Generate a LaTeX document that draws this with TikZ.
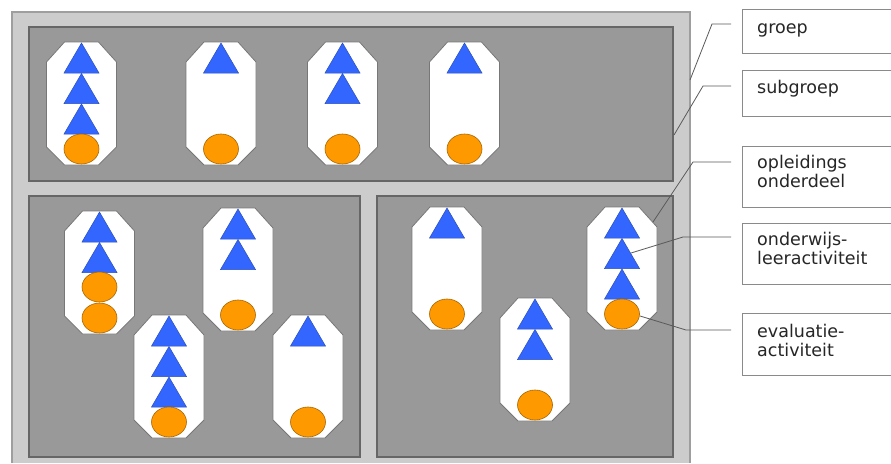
\documentclass[tikz,border=0pt]{standalone}
\usepackage{fontspec}
\newfontfamily\labfont{DejaVu Sans}
\usetikzlibrary{calc}
\definecolor{outerfill}{HTML}{CCCCCC}
\definecolor{outerline}{HTML}{9E9E9E}
\definecolor{panelfill}{HTML}{999999}
\definecolor{panelline}{HTML}{666666}
\definecolor{octline}{HTML}{777777}
\definecolor{trifill}{HTML}{3366FF}
\definecolor{triline}{HTML}{2B4FB8}
\definecolor{circfill}{HTML}{FF9900}
\definecolor{circline}{HTML}{A86500}
\definecolor{conline}{HTML}{5A5A5A}
\definecolor{boxline}{HTML}{8A8A8A}
\definecolor{labtext}{HTML}{262626}
\newcommand\oounit[5]{% #1 name, #2 cx, #3 top, #4 triangles, #5 circles
  \begin{scope}[shift={(#2,#3)}]
    \coordinate (#1) at (0,0);
    \draw[octa] (-17,0) -- (17,0) -- (35,20) -- (35,105) -- (17,123) -- (-17,123) -- (-35,105) -- (-35,20) -- cycle;
    \foreach \k in {1,...,#4}{
      \draw[tri] (0,{1+30.5*(\k-1)}) -- (17.5,{31+30.5*(\k-1)}) -- (-17.5,{31+30.5*(\k-1)}) -- cycle;
    }
    \ifnum#5>1 \draw[circ] (0,76) ellipse [x radius=17.5pt, y radius=15pt];\fi
    \draw[circ] (0,107) ellipse [x radius=17.5pt, y radius=15pt];
  \end{scope}}
\begin{document}
\begin{tikzpicture}[x=1pt,y=-1pt,
  panel/.style={fill=panelfill, draw=panelline, line width=1.5pt},
  octa/.style={fill=white, draw=octline, line width=0.8pt},
  tri/.style={fill=trifill, draw=triline, line width=0.5pt},
  circ/.style={fill=circfill, draw=circline, line width=0.6pt},
  con/.style={draw=conline, line width=0.8pt},
  lbox/.style={draw=none, inner sep=0pt, anchor=north west, minimum width=149pt},
  boxl/.style={draw=boxline, line width=1pt},
  ltext/.style={font=\labfont\fontsize{17.5}{19}\selectfont, text=labtext, inner sep=0pt, anchor=base west, align=left, text width=132pt}]
\useasboundingbox (0,0) rectangle (891,463);
\fill[white] (0,0) rectangle (891,463);
% outer frame (group)
\fill[outerfill] (12,12) rectangle (690,463);
\draw[outerline, line width=1.5pt] (12,463) -- (12,12) -- (690,12) -- (690,463);
% subgroup panels
\draw[panel] (29,27) rectangle (673,181);
\draw[panel] (29,196) rectangle (360,457);
\draw[panel] (377,196) rectangle (673,457);
% units: name, cx, top, triangles, circles
\oounit{o1}{81.5}{42}{3}{1}
\oounit{o2}{221}{42}{1}{1}
\oounit{o3}{342.5}{42}{2}{1}
\oounit{o4}{464.5}{42}{1}{1}
\oounit{o5}{99.5}{211}{2}{2}
\oounit{o6}{238}{208}{2}{1}
\oounit{o7}{169}{315}{3}{1}
\oounit{o8}{308}{315}{1}{1}
\oounit{o9}{447}{207}{1}{1}
\oounit{o10}{535}{298}{2}{1}
\oounit{o11}{622}{207}{3}{1}
% label boxes
\node[lbox, minimum height=44pt] (bgroep) at (742,9) {};
\node[lbox, minimum height=46pt] (bsub) at (742,70) {};
\node[lbox, minimum height=61pt] (bopl) at (742,146) {};
\node[lbox, minimum height=61pt] (bond) at (742,223) {};
\node[lbox, minimum height=62pt] (beval) at (742,313) {};
\foreach \b in {bgroep,bsub,bopl,bond,beval}
  \draw[boxl] (\b.north east) -- (\b.north west) -- (\b.south west) -- (\b.south east);
\node[ltext] (tgroep) at (757,33) {groep};
\node[ltext] (tsub) at (757,93) {subgroep};
\node[ltext] (topl) at (757,168) {opleidings\\onderdeel};
\node[ltext] (tond) at (757,245) {onderwijs-\\leeractiviteit};
\node[ltext] (teval) at (757,337) {evaluatie-\\activiteit};
% connectors
\coordinate (s1) at (731,24);  \coordinate (k1) at (712,24);  \coordinate (c1) at (690,80);
\coordinate (s2) at (731,86);  \coordinate (k2) at (703,86);  \coordinate (c2) at (674,135);
\coordinate (s3) at (731,162); \coordinate (k3) at (693,162); \coordinate (c3) at ($(o11)+(31,15)$);
\coordinate (s4) at (731,237); \coordinate (k4) at (683,237); \coordinate (c4) at ($(o11)+(9,46)$);
\coordinate (s5) at (731,330); \coordinate (k5) at (686,330); \coordinate (c5) at ($(o11)+(18,109)$);
\foreach \i in {1,...,5}
  \draw[con] (s\i) -- (k\i) -- (c\i);
\end{tikzpicture}
\end{document}
